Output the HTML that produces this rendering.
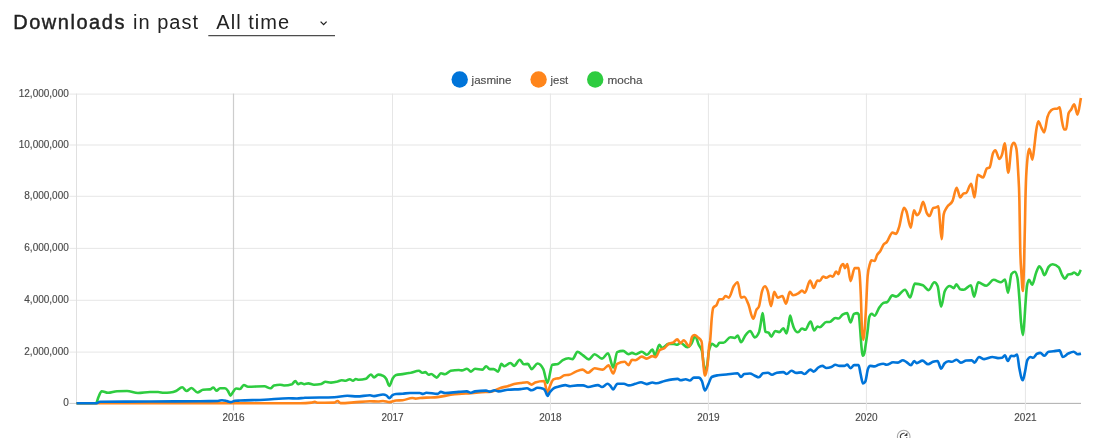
<!DOCTYPE html>
<html lang="en"><head><meta charset="utf-8"><title>Downloads in past All time</title>
<style>
html,body{margin:0;padding:0;background:#fff;}
body{width:1107px;height:438px;overflow:hidden;position:relative;font-family:"Liberation Sans",Arial,Helvetica,sans-serif;}
svg{position:absolute;left:0;top:0;display:block;will-change:transform;}
svg text{font-family:"Liberation Sans",Arial,Helvetica,sans-serif;}
.ttl{font-size:20px;fill:#222;}
.ax{font-size:10px;fill:#4a4a4a;stroke:#4a4a4a;stroke-width:0.15px;}
.lg{font-size:11.5px;fill:#4d4d4d;stroke:#4d4d4d;stroke-width:0.15px;}
</style></head><body>
<svg width="1107" height="438" viewBox="0 0 1107 438">
<rect width="1107" height="438" fill="#fff"/>
<g class="ttl">
<text x="13.2" y="29.2" textLength="111.2" lengthAdjust="spacing" stroke="#222" stroke-width="0.42">Downloads</text>
<text x="133.0" y="29.2" textLength="65" lengthAdjust="spacing">in past</text>
<text x="216.3" y="29.2" textLength="72.8" lengthAdjust="spacing">All time</text>
</g>
<rect x="208.3" y="35.2" width="126.7" height="1" fill="#222"/>
<path d="M320.6 21.6 L323.6 24.6 L326.6 21.6" fill="none" stroke="#222" stroke-width="1.3"/>
<circle cx="459.7" cy="79.5" r="8.2" fill="#0074D9"/>
<circle cx="538.6" cy="79.5" r="8.2" fill="#FF851B"/>
<circle cx="595.2" cy="79.5" r="8.2" fill="#2ECC40"/>
<g class="lg">
<text x="471.6" y="83.6" textLength="39.9" lengthAdjust="spacingAndGlyphs">jasmine</text>
<text x="550.6" y="83.6" textLength="17.6" lengthAdjust="spacingAndGlyphs">jest</text>
<text x="607.4" y="83.6" textLength="35.2" lengthAdjust="spacingAndGlyphs">mocha</text>
</g>
<g shape-rendering="auto">
<rect x="69.4" y="93.60" width="1011.6" height="1" fill="#e6e6e6"/>
<rect x="69.4" y="144.50" width="1011.6" height="1" fill="#e6e6e6"/>
<rect x="69.4" y="195.80" width="1011.6" height="1" fill="#e6e6e6"/>
<rect x="69.4" y="247.85" width="1011.6" height="1" fill="#e6e6e6"/>
<rect x="69.4" y="299.80" width="1011.6" height="1" fill="#e6e6e6"/>
<rect x="69.4" y="351.60" width="1011.6" height="1" fill="#e6e6e6"/>
<rect x="69.4" y="402.90" width="7.1" height="1" fill="#cfcfcf"/>
<rect x="76.5" y="402.85" width="1004.5" height="1.1" fill="#b4b4b4"/>
<rect x="76.00" y="93.60" width="1" height="309.80" fill="#e0e0e0"/>
<rect x="232.90" y="93.60" width="1.2" height="316.80" fill="#cdcdcd"/>
<rect x="392.00" y="93.60" width="1.0" height="316.80" fill="#e6e6e6"/>
<rect x="549.90" y="93.60" width="1.0" height="316.80" fill="#e6e6e6"/>
<rect x="707.90" y="93.60" width="1.0" height="316.80" fill="#e6e6e6"/>
<rect x="865.90" y="93.60" width="1.0" height="316.80" fill="#e6e6e6"/>
<rect x="1024.90" y="93.60" width="1.0" height="316.80" fill="#e6e6e6"/>
</g>
<g class="ax">
<text x="68.8" y="97.0" text-anchor="end">12,000,000</text>
<text x="68.8" y="147.9" text-anchor="end">10,000,000</text>
<text x="68.8" y="199.2" text-anchor="end">8,000,000</text>
<text x="68.8" y="251.2" text-anchor="end">6,000,000</text>
<text x="68.8" y="303.2" text-anchor="end">4,000,000</text>
<text x="68.8" y="355.0" text-anchor="end">2,000,000</text>
<text x="68.8" y="406.3" text-anchor="end">0</text>
<text x="233.5" y="421.2" text-anchor="middle">2016</text>
<text x="392.5" y="421.2" text-anchor="middle">2017</text>
<text x="550.4" y="421.2" text-anchor="middle">2018</text>
<text x="708.4" y="421.2" text-anchor="middle">2019</text>
<text x="866.4" y="421.2" text-anchor="middle">2020</text>
<text x="1025.4" y="421.2" text-anchor="middle">2021</text>
</g>
<path d="M76.5 403.3C83.0 403.3 89.5 403.3 96.0 403.3C96.8 403.3 97.7 398.8 98.5 397.0C99.6 394.6 100.6 391.2 101.7 391.2C103.8 391.2 105.9 392.8 108.0 392.8C111.0 392.8 114.0 391.3 117.0 391.2C120.3 391.1 123.7 391.0 127.0 391.0C130.7 391.0 134.3 393.0 138.0 393.0C142.0 393.0 146.0 392.0 150.0 392.0C152.7 392.0 155.3 392.0 158.0 392.0C160.0 392.0 162.0 392.8 164.0 392.8C166.0 392.8 168.0 392.7 170.0 392.5C172.0 392.3 174.0 391.9 176.0 391.0C178.1 390.1 180.1 387.2 182.2 387.2C183.6 387.2 185.1 391.0 186.5 391.0C188.2 391.0 189.8 388.0 191.5 388.0C193.5 388.0 195.5 392.5 197.5 392.5C199.3 392.5 201.2 389.9 203.0 389.7C205.3 389.5 207.7 389.6 210.0 389.4C211.1 389.3 212.2 387.5 213.3 387.5C214.4 387.5 215.4 390.7 216.5 390.7C217.7 390.7 218.8 388.3 220.0 388.3C221.7 388.3 223.3 388.3 225.0 388.3C226.0 388.3 227.0 389.6 228.0 391.0C228.8 392.2 229.7 395.6 230.5 395.6C231.3 395.6 232.2 393.1 233.0 392.0C234.0 390.7 235.0 388.5 236.0 388.5C237.3 388.5 238.7 389.0 240.0 389.0C241.3 389.0 242.5 385.0 243.8 385.0C245.2 385.0 246.6 386.8 248.0 386.8C253.5 386.8 258.9 386.3 264.4 386.3C266.5 386.3 268.5 388.3 270.6 388.3C271.7 388.3 272.9 385.8 274.0 385.5C276.0 385.0 278.0 384.7 280.0 384.7C281.3 384.7 282.7 385.5 284.0 385.5C286.7 385.5 289.3 385.1 292.0 384.2C293.1 383.8 294.2 381.0 295.3 381.0C296.3 381.0 297.2 384.2 298.2 384.2C299.1 384.2 300.1 383.1 301.0 383.1C302.1 383.1 303.1 384.2 304.2 384.2C305.6 384.2 306.9 383.4 308.3 383.4C310.2 383.4 312.1 384.7 314.0 384.7C316.4 384.7 318.9 384.4 321.3 383.9C322.7 383.6 324.0 381.8 325.4 381.8C327.3 381.8 329.1 382.6 331.0 382.6C333.2 382.6 335.4 382.1 337.6 381.5C338.9 381.1 340.3 380.2 341.6 380.2C343.0 380.2 344.3 380.7 345.7 380.7C347.1 380.7 348.4 379.2 349.8 379.2C350.9 379.2 351.9 380.7 353.0 380.7C353.9 380.7 354.9 379.0 355.8 379.0C356.8 379.0 357.7 379.8 358.7 379.8C361.1 379.8 363.6 379.4 366.0 378.7C367.6 378.2 369.3 374.5 370.9 374.5C372.0 374.5 373.0 377.4 374.1 377.4C375.5 377.4 376.8 374.6 378.2 374.6C379.8 374.6 381.5 375.0 383.1 375.8C384.2 376.3 385.2 377.2 386.3 379.0C387.3 380.7 388.3 385.9 389.3 385.9C390.5 385.9 391.6 380.0 392.8 378.2C393.9 376.5 395.0 375.3 396.1 375.0C398.3 374.4 400.4 374.4 402.6 374.1C405.3 373.7 408.0 373.3 410.7 372.8C413.4 372.2 416.2 370.8 418.9 370.8C420.0 370.8 421.1 372.7 422.2 372.7C423.3 372.7 424.3 372.1 425.4 372.1C426.5 372.1 427.6 374.8 428.7 374.8C429.5 374.8 430.3 374.0 431.1 374.0C433.0 374.0 434.9 377.6 436.8 377.6C438.2 377.6 439.5 373.2 440.9 373.2C442.3 373.2 443.6 374.3 445.0 374.3C446.9 374.3 448.8 371.2 450.7 370.8C453.4 370.3 456.1 370.0 458.8 370.0C459.9 370.0 460.9 370.4 462.0 370.4C463.6 370.4 465.3 368.7 466.9 368.7C468.3 368.7 469.6 371.6 471.0 371.6C472.3 371.6 473.7 368.8 475.0 368.8C477.5 368.8 479.9 369.6 482.4 369.6C483.6 369.6 484.9 366.2 486.1 366.2C487.3 366.2 488.5 369.1 489.7 369.1C491.0 369.1 492.4 369.1 493.7 369.1C495.2 369.1 496.6 371.6 498.1 371.6C499.2 371.6 500.3 363.9 501.4 363.9C502.4 363.9 503.3 366.2 504.3 366.2C506.4 366.2 508.4 363.0 510.5 363.0C511.7 363.0 512.9 365.9 514.1 365.9C516.0 365.9 517.9 359.7 519.8 359.7C521.1 359.7 522.5 364.3 523.8 364.3C525.2 364.3 526.5 363.9 527.9 363.9C529.1 363.9 530.4 369.1 531.6 369.1C533.6 369.1 535.6 363.5 537.6 363.5C539.5 363.5 541.4 365.4 543.3 369.1C544.7 371.8 546.0 383.0 547.4 383.0C549.0 383.0 550.7 365.3 552.3 364.8C554.2 364.2 556.1 364.5 558.0 363.9C559.6 363.4 561.2 361.1 562.8 360.2C564.7 359.1 566.6 358.3 568.5 358.3C569.9 358.3 571.2 359.1 572.6 359.1C574.2 359.1 575.9 351.7 577.5 351.7C579.1 351.7 580.8 353.7 582.4 354.8C584.6 356.2 586.7 359.4 588.9 359.4C590.8 359.4 592.7 354.2 594.6 354.2C597.1 354.2 599.5 358.6 602.0 358.6C604.0 358.6 606.0 353.2 608.0 353.2C609.8 353.2 611.5 367.5 613.3 367.5C614.6 367.5 615.8 352.6 617.1 352.1C619.1 351.3 621.1 350.9 623.1 350.9C624.9 350.9 626.7 354.2 628.5 354.2C629.7 354.2 630.8 352.9 632.0 352.9C633.4 352.9 634.7 354.2 636.1 354.2C638.0 354.2 639.9 351.7 641.8 351.7C643.5 351.7 645.3 354.8 647.0 354.8C648.8 354.8 650.6 349.6 652.4 349.6C653.3 349.6 654.2 355.3 655.1 355.3C656.5 355.3 657.9 344.8 659.3 344.8C660.2 344.8 661.2 348.0 662.1 348.0C664.3 348.0 666.4 343.9 668.6 343.9C670.2 343.9 671.9 343.9 673.5 343.9C674.7 343.9 676.0 344.8 677.2 344.8C678.3 344.8 679.4 342.8 680.5 342.8C682.8 342.8 685.0 347.2 687.3 347.2C688.7 347.2 690.0 346.0 691.4 343.9C692.6 342.0 693.9 336.0 695.1 336.0C696.3 336.0 697.5 342.2 698.7 344.8C699.8 347.2 700.9 347.0 702.0 351.3C702.5 353.1 702.9 358.9 703.4 362.0C703.9 365.6 704.5 371.0 705.0 371.0C705.8 371.0 706.5 368.8 707.3 364.5C707.8 361.9 708.2 354.9 708.7 352.0C709.1 349.3 709.6 348.3 710.0 347.0C710.7 345.0 711.3 343.9 712.0 343.9C713.5 343.9 715.1 346.4 716.6 346.4C717.6 346.4 718.5 342.8 719.5 342.8C720.8 342.8 722.2 342.8 723.5 342.8C725.8 342.8 728.1 337.2 730.4 337.2C731.8 337.2 733.1 338.0 734.5 338.0C735.6 338.0 736.6 335.6 737.7 335.6C738.8 335.6 739.9 342.3 741.0 342.3C742.3 342.3 743.7 337.7 745.0 335.9C746.7 333.6 748.5 331.0 750.2 331.0C751.7 331.0 753.3 337.5 754.8 337.5C756.2 337.5 757.5 335.9 758.9 332.6C759.4 331.3 760.0 327.7 760.5 325.0C761.2 321.4 761.9 313.1 762.6 313.1C763.1 313.1 763.5 318.9 764.0 322.0C764.5 325.1 764.9 331.6 765.4 331.8C766.5 332.3 767.5 332.1 768.6 332.6C769.5 333.1 770.5 336.7 771.4 336.7C772.6 336.7 773.9 331.0 775.1 331.0C776.5 331.0 777.8 332.1 779.2 332.1C780.6 332.1 781.9 328.2 783.3 328.2C784.4 328.2 785.4 333.4 786.5 333.4C787.2 333.4 787.8 328.4 788.5 325.0C789.0 322.2 789.6 315.5 790.1 315.5C790.7 315.5 791.4 319.9 792.0 322.0C792.6 324.0 793.2 326.4 793.8 327.7C795.2 330.8 796.5 332.3 797.9 332.3C799.3 332.3 800.6 328.5 802.0 328.5C803.1 328.5 804.1 329.8 805.2 329.8C807.0 329.8 808.8 321.5 810.6 321.5C811.8 321.5 812.9 330.5 814.1 330.5C815.2 330.5 816.3 326.6 817.4 326.6C818.2 326.6 819.0 327.2 819.8 327.2C822.0 327.2 824.1 322.0 826.3 322.0C827.4 322.0 828.5 322.0 829.6 322.0C831.5 322.0 833.4 318.0 835.3 318.0C836.4 318.0 837.4 318.5 838.5 318.5C839.9 318.5 841.2 315.6 842.6 314.7C844.1 313.7 845.7 313.1 847.2 313.1C848.3 313.1 849.4 322.5 850.5 322.5C851.7 322.5 852.8 314.5 854.0 313.9C855.1 313.4 856.1 313.1 857.2 313.1C857.7 313.1 858.2 313.6 858.7 314.5C859.2 315.5 859.8 324.3 860.3 331.0C860.6 335.2 861.0 341.2 861.3 345.0C861.6 348.4 861.9 351.3 862.2 353.0C862.5 354.9 862.9 355.8 863.2 355.8C863.6 355.8 863.9 355.0 864.3 353.5C864.6 352.2 864.9 349.9 865.2 348.0C866.0 342.9 866.8 337.2 867.6 331.0C868.2 326.6 868.7 318.4 869.3 316.9C870.1 314.8 870.9 313.7 871.7 313.7C872.6 313.7 873.6 315.8 874.5 315.8C876.0 315.8 877.5 310.2 879.0 308.0C880.4 306.0 881.7 303.8 883.1 303.1C884.5 302.4 885.8 302.7 887.2 302.0C888.9 301.1 890.7 295.4 892.4 295.4C893.6 295.4 894.9 296.6 896.1 296.6C899.1 296.6 902.0 289.8 905.0 289.8C906.7 289.8 908.5 297.4 910.2 297.4C911.7 297.4 913.3 283.6 914.8 283.6C917.5 283.6 920.2 284.1 922.9 285.2C924.8 286.0 926.7 290.1 928.6 290.1C930.5 290.1 932.4 282.3 934.3 282.3C935.4 282.3 936.5 283.5 937.6 286.0C938.8 288.6 939.9 306.7 941.1 306.7C942.4 306.7 943.6 293.4 944.9 290.9C946.5 287.6 948.2 286.0 949.8 286.0C951.1 286.0 952.5 288.1 953.8 288.1C954.6 288.1 955.5 284.4 956.3 284.4C957.6 284.4 959.0 288.9 960.3 289.3C961.4 289.6 962.5 289.8 963.6 289.8C966.0 289.8 968.5 285.2 970.9 285.2C972.0 285.2 973.0 296.6 974.1 296.6C975.5 296.6 976.8 282.4 978.2 282.4C980.9 282.4 983.6 285.7 986.3 285.7C988.8 285.7 991.2 279.8 993.7 279.8C996.1 279.8 998.6 282.3 1001.0 282.3C1002.3 282.3 1003.7 279.5 1005.0 279.5C1006.0 279.5 1007.0 292.8 1008.0 292.8C1009.2 292.8 1010.3 275.6 1011.5 274.0C1012.6 272.5 1013.7 271.8 1014.8 271.8C1015.7 271.8 1016.5 273.8 1017.4 277.8C1018.1 281.0 1018.8 290.9 1019.5 300.0C1020.0 306.5 1020.5 316.4 1021.0 322.0C1021.6 329.1 1022.3 335.1 1022.9 335.1C1023.4 335.1 1023.8 328.1 1024.3 322.0C1024.6 317.7 1025.0 311.2 1025.3 306.4C1025.9 298.3 1026.4 289.3 1027.0 285.8C1027.7 281.7 1028.3 279.7 1029.0 279.7C1030.0 279.7 1031.1 284.8 1032.1 284.8C1033.5 284.8 1034.8 275.8 1036.2 272.5C1037.2 270.0 1038.3 266.3 1039.3 266.3C1040.1 266.3 1041.0 268.0 1041.8 269.4C1042.7 270.9 1043.5 275.1 1044.4 275.1C1045.8 275.1 1047.2 268.7 1048.6 266.9C1050.0 265.1 1051.3 264.2 1052.7 264.2C1054.7 264.2 1056.8 265.2 1058.8 267.3C1059.8 268.4 1060.9 272.6 1061.9 274.5C1062.9 276.4 1064.0 278.6 1065.0 278.6C1066.0 278.6 1067.1 274.8 1068.1 274.5C1069.1 274.2 1070.2 274.4 1071.2 274.1C1072.2 273.8 1073.2 272.5 1074.2 272.5C1075.4 272.5 1076.7 274.9 1077.9 274.9C1078.9 274.9 1079.8 271.5 1080.8 269.8" fill="none" stroke="#2ECC40" stroke-width="2.6" stroke-linejoin="round" stroke-linecap="butt"/>
<path d="M76.5 403.3C117.7 403.3 158.8 403.3 200.0 403.3C233.3 403.3 266.7 403.3 300.0 403.2C303.8 403.2 307.7 403.0 311.5 402.6C312.6 402.5 313.7 401.8 314.8 401.8C315.9 401.8 316.9 402.8 318.0 402.8C323.4 402.8 328.9 402.7 334.3 402.6C335.4 402.6 336.5 401.0 337.6 401.0C338.6 401.0 339.5 403.1 340.5 403.1C344.9 403.1 349.4 402.7 353.8 402.4C359.2 402.1 364.6 401.3 370.0 401.3C372.7 401.3 375.3 401.5 378.0 401.5C379.7 401.5 381.3 401.0 383.0 401.0C385.2 401.0 387.4 402.1 389.6 402.1C391.7 402.1 393.9 400.7 396.0 400.5C398.2 400.3 400.4 400.4 402.6 400.2C405.9 399.9 409.1 398.0 412.4 398.0C413.5 398.0 414.5 398.6 415.6 398.6C417.1 398.6 418.5 398.2 420.0 398.0C422.1 397.8 424.2 397.7 426.3 397.6C430.1 397.4 433.8 397.4 437.6 397.1C442.0 396.7 446.3 395.4 450.7 394.8C453.4 394.4 456.1 394.1 458.8 393.9C462.9 393.5 466.9 393.5 471.0 393.2C474.5 392.9 478.0 392.5 481.5 392.2C484.8 391.9 488.0 392.0 491.3 391.6C494.5 391.2 497.8 388.8 501.0 387.8C503.2 387.1 505.4 386.8 507.6 386.2C509.8 385.6 511.9 384.6 514.1 384.1C516.3 383.6 518.4 383.3 520.6 383.0C522.7 382.7 524.9 382.2 527.0 382.2C528.5 382.2 530.1 384.6 531.6 384.6C532.8 384.6 534.0 382.9 535.2 382.5C538.2 381.5 541.1 381.0 544.1 381.0C545.2 381.0 546.3 392.7 547.4 392.7C548.3 392.7 549.1 388.0 550.0 386.0C551.0 383.6 552.1 380.4 553.1 379.7C554.2 379.0 555.2 378.9 556.3 378.6C557.4 378.3 558.5 378.4 559.6 378.1C561.2 377.6 562.9 375.5 564.5 375.2C566.1 374.9 567.7 375.1 569.3 374.8C571.5 374.4 573.7 372.5 575.9 371.6C578.1 370.7 580.3 369.6 582.5 369.6C584.4 369.6 586.2 372.7 588.1 372.7C590.3 372.7 592.4 368.3 594.6 368.3C597.3 368.3 600.1 369.6 602.8 369.6C604.7 369.6 606.6 365.4 608.5 365.4C610.1 365.4 611.7 373.5 613.3 373.5C614.6 373.5 615.8 364.6 617.1 363.9C619.6 362.5 622.2 361.8 624.7 361.8C626.0 361.8 627.2 365.1 628.5 365.1C629.7 365.1 630.8 359.9 632.0 359.9C633.1 359.9 634.2 360.2 635.3 360.2C637.5 360.2 639.6 356.6 641.8 356.6C643.4 356.6 645.1 358.6 646.7 358.6C648.6 358.6 650.5 356.1 652.4 356.1C653.5 356.1 654.5 357.3 655.6 357.3C657.0 357.3 658.3 351.3 659.7 350.1C661.3 348.7 663.0 349.2 664.6 348.0C665.9 347.0 667.3 344.8 668.6 343.9C670.2 342.8 671.9 343.3 673.5 342.3C674.7 341.6 676.0 339.4 677.2 339.4C678.3 339.4 679.4 343.1 680.5 343.1C681.6 343.1 682.6 340.2 683.7 340.2C685.6 340.2 687.4 346.4 689.3 346.4C690.3 346.4 691.2 337.9 692.2 336.6C693.0 335.5 693.8 335.0 694.6 335.0C695.7 335.0 696.8 336.4 697.9 337.4C699.1 338.5 700.4 338.8 701.6 341.5C702.1 342.5 702.5 354.9 703.0 360.0C703.7 367.3 704.3 375.6 705.0 375.6C705.9 375.6 706.7 371.7 707.6 364.3C708.2 359.4 708.7 349.0 709.3 345.0C709.6 343.1 709.8 343.1 710.1 341.0C710.6 336.8 711.2 324.4 711.7 318.8C712.2 313.3 712.8 308.6 713.3 307.7C714.4 305.9 715.5 306.7 716.6 305.0C717.5 303.6 718.4 299.3 719.3 299.3C720.4 299.3 721.5 299.3 722.6 299.3C723.6 299.3 724.5 296.0 725.5 296.0C726.6 296.0 727.7 297.6 728.8 297.6C730.4 297.6 732.1 288.9 733.7 286.3C735.0 284.2 736.4 282.2 737.7 282.2C738.8 282.2 739.9 297.6 741.0 297.6C742.1 297.6 743.1 296.8 744.2 296.8C745.6 296.8 746.9 300.9 748.3 304.1C749.9 307.9 751.6 318.8 753.2 318.8C754.3 318.8 755.3 311.9 756.4 309.8C757.2 308.2 758.1 308.7 758.9 306.6C760.0 303.9 761.0 294.5 762.1 291.1C763.0 288.1 764.0 286.3 764.9 286.3C765.9 286.3 766.8 288.1 767.8 291.1C768.9 294.4 769.9 306.1 771.0 306.1C772.1 306.1 773.2 291.9 774.3 291.9C775.4 291.9 776.5 297.6 777.6 297.6C779.2 297.6 780.8 296.0 782.4 296.0C783.6 296.0 784.8 303.8 786.0 303.8C787.3 303.8 788.5 291.9 789.8 291.9C790.9 291.9 791.9 295.2 793.0 295.2C794.9 295.2 796.8 294.3 798.7 293.1C799.8 292.4 800.9 290.6 802.0 290.6C803.0 290.6 803.9 292.8 804.9 292.8C806.6 292.8 808.4 280.6 810.1 280.6C811.3 280.6 812.5 287.9 813.7 287.9C814.9 287.9 816.2 280.6 817.4 280.6C818.2 280.6 819.0 281.0 819.8 281.0C820.9 281.0 822.0 276.5 823.1 276.5C824.2 276.5 825.2 277.8 826.3 277.8C827.7 277.8 829.0 275.7 830.4 275.7C831.2 275.7 832.0 276.8 832.8 276.8C833.9 276.8 835.0 271.6 836.1 271.6C836.9 271.6 837.7 274.1 838.5 274.1C839.2 274.1 839.8 268.8 840.5 267.3C841.4 265.2 842.4 264.1 843.3 264.1C843.8 264.1 844.4 268.1 844.9 268.1C845.7 268.1 846.5 264.1 847.3 264.1C848.4 264.1 849.5 281.1 850.6 281.1C851.9 281.1 853.3 268.1 854.6 268.1C856.0 268.1 857.3 268.1 858.7 268.1C859.1 268.1 859.4 271.4 859.8 276.3C860.2 281.6 860.6 289.6 861.0 300.0C861.3 308.6 861.7 327.0 862.0 331.0C862.5 337.0 863.0 340.0 863.5 340.0C864.0 340.0 864.5 331.9 865.0 325.0C865.3 320.4 865.7 314.7 866.0 308.8C866.5 299.3 867.1 281.8 867.6 276.3C868.4 267.6 869.3 266.1 870.1 263.3C870.5 261.8 871.0 260.2 871.4 260.2C872.5 260.2 873.5 261.0 874.6 261.0C875.4 261.0 876.3 256.6 877.1 255.0C878.2 253.0 879.2 252.7 880.3 251.0C881.4 249.2 882.5 246.0 883.6 244.5C884.7 243.0 885.7 243.2 886.8 242.0C888.7 239.9 890.6 232.6 892.5 232.6C893.7 232.6 894.9 233.9 896.1 233.9C897.1 233.9 898.0 230.2 899.0 227.4C900.6 222.7 902.3 207.9 903.9 207.9C904.7 207.9 905.5 209.3 906.3 211.1C907.8 214.3 909.2 227.7 910.7 227.7C911.8 227.7 912.9 210.3 914.0 210.3C915.0 210.3 915.9 215.2 916.9 215.2C917.9 215.2 918.8 214.0 919.8 212.0C920.9 209.7 922.0 201.7 923.1 201.7C924.3 201.7 925.5 210.4 926.7 212.8C927.7 214.7 928.6 216.0 929.6 216.0C930.8 216.0 932.0 208.2 933.2 207.9C934.0 207.7 934.8 207.8 935.6 207.6C936.5 207.4 937.5 206.3 938.4 206.3C938.8 206.3 939.3 214.9 939.7 219.3C940.3 225.7 941.0 239.1 941.6 239.1C942.3 239.1 943.0 217.5 943.7 214.4C944.8 209.5 945.9 209.1 947.0 207.1C948.9 203.6 950.8 204.9 952.7 200.6C954.0 197.6 955.3 187.7 956.6 187.7C957.8 187.7 959.1 197.5 960.3 197.5C961.4 197.5 962.5 193.7 963.6 193.4C964.4 193.2 965.2 193.3 966.0 193.1C967.7 192.7 969.5 183.7 971.2 183.7C972.3 183.7 973.4 197.5 974.5 197.5C975.6 197.5 976.6 174.7 977.7 174.7C979.5 174.7 981.3 177.5 983.1 177.5C984.3 177.5 985.6 169.5 986.8 168.5C987.7 167.8 988.7 168.1 989.6 167.4C990.7 166.5 991.8 156.4 992.9 153.6C993.7 151.6 994.5 150.3 995.3 150.3C996.7 150.3 998.0 158.9 999.4 158.9C1000.3 158.9 1001.2 157.1 1002.1 154.4C1003.0 151.8 1003.8 143.3 1004.7 143.3C1005.9 143.3 1007.1 172.6 1008.3 172.6C1009.4 172.6 1010.5 149.6 1011.6 146.3C1012.4 143.9 1013.2 142.7 1014.0 142.7C1014.8 142.7 1015.6 144.7 1016.4 148.7C1017.0 151.5 1017.5 160.0 1018.1 170.7C1018.5 178.9 1019.0 181.8 1019.4 201.0C1019.7 212.8 1019.9 235.4 1020.2 246.9C1020.6 265.6 1021.1 267.8 1021.5 275.0C1022.0 282.8 1022.4 291.0 1022.9 291.0C1023.3 291.0 1023.6 277.3 1024.0 265.0C1024.3 253.8 1024.7 239.3 1025.0 222.5C1025.1 215.8 1025.3 207.2 1025.4 201.0C1025.8 183.9 1026.1 176.3 1026.5 170.7C1027.5 156.0 1028.4 148.7 1029.4 148.7C1030.4 148.7 1031.4 159.6 1032.4 159.6C1033.1 159.6 1033.8 150.6 1034.5 145.0C1035.0 141.0 1035.5 135.5 1036.0 132.0C1036.8 126.6 1037.5 121.4 1038.3 121.4C1039.4 121.4 1040.5 126.0 1041.6 128.0C1042.5 129.6 1043.3 132.5 1044.2 132.5C1045.3 132.5 1046.4 120.6 1047.5 116.9C1048.7 112.8 1050.0 111.2 1051.2 110.2C1052.4 109.2 1053.7 108.7 1054.9 108.7C1055.6 108.7 1056.4 108.7 1057.1 108.7C1058.0 108.7 1058.8 107.3 1059.7 107.3C1060.3 107.3 1061.0 115.7 1061.6 119.1C1062.4 123.5 1063.3 129.5 1064.1 129.5C1064.7 129.5 1065.4 129.5 1066.0 129.5C1066.9 129.5 1067.7 115.7 1068.6 113.2C1069.5 110.7 1070.3 110.9 1071.2 109.5C1072.2 107.9 1073.2 104.3 1074.2 104.3C1075.3 104.3 1076.4 114.7 1077.5 114.7C1078.6 114.7 1079.8 103.6 1080.9 98.1" fill="none" stroke="#FF851B" stroke-width="2.6" stroke-linejoin="round" stroke-linecap="butt"/>
<path d="M76.5 403.3C83.0 403.3 89.5 403.3 96.0 403.3C97.3 403.3 98.7 401.8 100.0 401.8C116.7 401.6 133.3 401.6 150.0 401.5C166.7 401.4 183.3 401.4 200.0 401.2C206.0 401.1 212.0 401.1 218.0 401.0C219.3 401.0 220.7 400.2 222.0 400.2C223.3 400.2 224.7 400.5 226.0 400.8C227.7 401.1 229.3 402.1 231.0 402.1C232.3 402.1 233.7 401.0 235.0 400.8C236.7 400.6 238.3 400.6 240.0 400.5C248.1 400.1 256.3 400.2 264.4 399.8C272.5 399.4 280.7 398.2 288.8 398.2C291.5 398.2 294.2 398.5 296.9 398.5C299.6 398.5 302.3 397.8 305.0 397.7C314.8 397.4 324.5 397.5 334.3 397.2C338.6 397.1 343.0 395.8 347.3 395.8C350.5 395.8 353.8 396.4 357.0 396.4C361.3 396.4 365.7 395.3 370.0 395.3C371.3 395.3 372.7 396.1 374.0 396.1C377.0 396.1 380.0 394.5 383.0 394.5C384.2 394.5 385.3 394.8 386.5 395.5C387.4 396.0 388.4 398.2 389.3 398.2C390.4 398.2 391.4 395.9 392.5 395.2C393.7 394.4 394.8 394.1 396.0 394.0C398.2 393.8 400.4 393.9 402.6 393.7C405.1 393.5 407.5 393.0 410.0 393.0C413.3 393.0 416.5 393.0 419.8 393.0C420.9 393.0 421.9 393.9 423.0 393.9C424.1 393.9 425.2 392.7 426.3 392.7C430.1 392.7 433.8 393.9 437.6 393.9C438.7 393.9 439.8 391.9 440.9 391.9C442.3 391.9 443.6 393.0 445.0 393.0C449.6 393.0 454.2 392.2 458.8 391.9C461.5 391.7 464.2 391.4 466.9 391.4C468.3 391.4 469.6 392.7 471.0 392.7C472.3 392.7 473.7 391.6 475.0 391.4C478.7 390.9 482.4 390.6 486.1 390.6C487.3 390.6 488.5 391.6 489.7 391.6C491.3 391.6 493.0 390.3 494.6 390.3C495.9 390.3 497.3 391.4 498.6 391.4C501.6 391.4 504.6 390.1 507.6 389.8C511.9 389.3 516.3 389.5 520.6 389.1C522.7 388.9 524.9 388.3 527.0 388.3C528.5 388.3 530.1 390.3 531.6 390.3C533.6 390.3 535.6 387.8 537.6 387.8C539.5 387.8 541.4 388.1 543.3 388.7C544.0 388.9 544.8 390.1 545.5 391.5C546.1 392.7 546.8 396.0 547.4 396.0C548.3 396.0 549.1 393.1 550.0 392.0C551.0 390.6 552.1 389.5 553.1 388.7C554.7 387.4 556.4 387.2 558.0 386.7C560.4 385.9 562.9 385.1 565.3 385.1C566.9 385.1 568.6 386.2 570.2 386.2C572.6 386.2 575.1 385.4 577.5 385.4C579.4 385.4 581.3 385.4 583.2 385.4C584.8 385.4 586.5 387.0 588.1 387.0C591.4 387.0 594.6 385.1 597.9 385.1C599.3 385.1 600.6 387.0 602.0 387.0C603.9 387.0 605.7 383.8 607.6 383.8C608.6 383.8 609.5 385.0 610.5 386.0C611.4 386.9 612.4 389.5 613.3 389.5C614.0 389.5 614.8 387.0 615.5 386.0C616.1 385.1 616.8 383.8 617.4 383.8C619.6 383.8 621.7 383.8 623.9 383.8C625.5 383.8 627.2 385.4 628.8 385.4C631.0 385.4 633.1 384.4 635.3 383.8C637.2 383.3 639.1 382.2 641.0 382.2C642.9 382.2 644.8 384.1 646.7 384.1C648.6 384.1 650.5 382.5 652.4 382.5C653.7 382.5 655.1 383.3 656.4 383.3C659.1 383.3 661.9 381.6 664.6 381.0C668.9 380.0 673.3 378.9 677.6 378.9C678.7 378.9 679.7 380.2 680.8 380.2C682.4 380.2 684.1 379.2 685.7 379.2C687.1 379.2 688.4 380.5 689.8 380.5C691.1 380.5 692.5 377.6 693.8 377.6C695.4 377.6 697.1 377.6 698.7 377.6C699.8 377.6 700.9 378.9 702.0 381.3C703.0 383.4 703.9 390.5 704.9 390.5C706.1 390.5 707.3 386.2 708.5 383.8C709.6 381.7 710.6 377.6 711.7 377.0C713.9 375.8 716.0 375.6 718.2 375.2C720.9 374.7 723.6 374.8 726.3 374.5C730.1 374.1 733.9 373.2 737.7 373.2C738.8 373.2 739.9 377.0 741.0 377.0C742.1 377.0 743.1 374.2 744.2 374.0C746.1 373.7 748.0 373.5 749.9 373.5C751.6 373.5 753.2 375.0 754.9 375.7C756.2 376.3 757.6 377.3 758.9 377.3C760.3 377.3 761.6 373.5 763.0 373.2C764.6 372.9 766.3 372.7 767.9 372.7C769.3 372.7 770.6 374.8 772.0 374.8C773.6 374.8 775.2 373.0 776.8 372.7C779.0 372.3 781.1 372.1 783.3 372.1C784.4 372.1 785.5 374.0 786.6 374.0C788.2 374.0 789.9 370.8 791.5 370.8C793.1 370.8 794.7 372.9 796.3 372.9C797.9 372.9 799.6 372.4 801.2 372.4C802.3 372.4 803.4 374.0 804.5 374.0C806.4 374.0 808.3 369.6 810.2 369.6C811.4 369.6 812.5 371.6 813.7 371.6C815.2 371.6 816.8 368.5 818.3 367.5C819.7 366.6 821.0 365.9 822.4 365.9C823.7 365.9 825.1 368.0 826.4 368.0C828.0 368.0 829.7 367.6 831.3 367.0C832.7 366.5 834.0 364.8 835.4 364.8C836.7 364.8 838.1 365.9 839.4 365.9C841.0 365.9 842.7 365.9 844.3 365.9C845.3 365.9 846.2 364.6 847.2 364.6C848.3 364.6 849.4 368.3 850.5 368.3C851.7 368.3 852.9 365.1 854.1 365.1C855.6 365.1 857.1 365.1 858.6 365.1C859.3 365.1 859.9 371.2 860.6 374.0C861.4 377.4 862.2 383.5 863.0 383.5C863.8 383.5 864.6 382.8 865.4 381.3C866.2 379.8 867.1 371.3 867.9 369.1C868.7 367.0 869.5 365.9 870.3 365.9C871.7 365.9 873.0 366.4 874.4 366.4C875.8 366.4 877.1 365.2 878.5 364.8C880.1 364.3 881.7 363.8 883.3 363.8C884.4 363.8 885.5 364.8 886.6 364.8C888.8 364.8 890.9 362.3 893.1 362.3C894.7 362.3 896.4 362.6 898.0 362.6C899.6 362.6 901.2 360.2 902.8 360.2C903.9 360.2 905.0 361.2 906.1 361.8C907.7 362.7 909.4 365.1 911.0 365.1C912.1 365.1 913.1 361.0 914.2 361.0C915.0 361.0 915.9 363.1 916.7 363.1C918.6 363.1 920.5 360.6 922.4 360.6C924.3 360.6 926.2 364.3 928.1 364.3C929.7 364.3 931.4 362.4 933.0 361.8C934.5 361.3 936.1 361.0 937.6 361.0C938.8 361.0 939.9 368.8 941.1 368.8C942.2 368.8 943.3 364.7 944.4 363.5C945.8 362.0 947.1 361.3 948.5 361.3C949.6 361.3 950.6 361.8 951.7 361.8C953.3 361.8 955.0 359.7 956.6 359.7C958.0 359.7 959.3 362.6 960.7 362.6C962.6 362.6 964.4 360.7 966.3 360.5C968.1 360.3 969.9 360.2 971.7 360.2C972.6 360.2 973.6 362.6 974.5 362.6C976.0 362.6 977.4 357.0 978.9 357.0C980.7 357.0 982.4 359.1 984.2 359.1C986.9 359.1 989.7 357.0 992.4 357.0C994.3 357.0 996.1 358.1 998.0 358.1C999.4 358.1 1000.7 358.0 1002.1 357.8C1003.0 357.7 1004.0 355.3 1004.9 355.3C1005.9 355.3 1006.8 361.0 1007.8 361.0C1008.9 361.0 1010.0 355.8 1011.1 355.8C1012.2 355.8 1013.2 356.1 1014.3 356.1C1015.2 356.1 1016.2 354.5 1017.1 354.5C1017.8 354.5 1018.5 363.9 1019.2 367.5C1020.4 373.8 1021.6 380.2 1022.8 380.2C1023.5 380.2 1024.2 375.4 1024.9 372.4C1025.7 368.9 1026.5 361.8 1027.3 360.2C1028.4 358.1 1029.5 357.0 1030.6 357.0C1031.4 357.0 1032.2 357.8 1033.0 357.8C1034.4 357.8 1035.7 354.4 1037.1 353.7C1038.2 353.2 1039.2 352.9 1040.3 352.9C1041.7 352.9 1043.0 355.8 1044.4 355.8C1045.8 355.8 1047.1 351.9 1048.5 351.7C1050.1 351.4 1051.7 351.5 1053.3 351.3C1055.4 351.1 1057.4 350.4 1059.5 350.4C1060.6 350.4 1061.7 357.0 1062.8 357.0C1064.5 357.0 1066.3 354.6 1068.0 353.7C1069.9 352.8 1071.8 351.7 1073.7 351.7C1075.0 351.7 1076.4 354.2 1077.7 354.2C1078.8 354.2 1079.9 353.9 1081.0 353.7" fill="none" stroke="#0074D9" stroke-width="2.6" stroke-linejoin="round" stroke-linecap="butt"/>
<circle cx="903.7" cy="436.6" r="6.3" fill="#fff" stroke="#a8a8a8" stroke-width="1.1"/>
<path d="M904.6 433.4 A3.3 3.3 0 1 0 906.9 437.3" fill="none" stroke="#444" stroke-width="1.2"/>
<path d="M904.0 436.0 L907.4 432.6 L907.4 436.0 Z" fill="#3a3a3a"/>
</svg>
</body></html>
